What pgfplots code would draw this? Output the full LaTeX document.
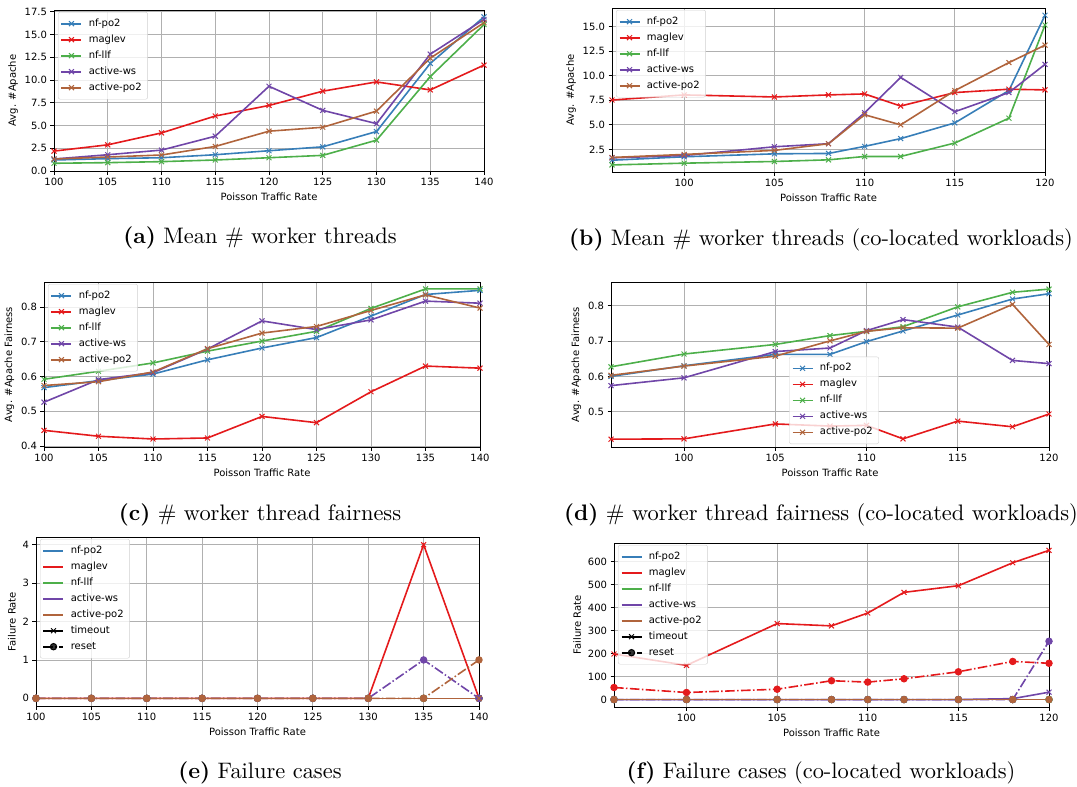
\documentclass[border=0pt]{standalone}
\usepackage{fontspec}
\usepackage{graphicx}
\usepackage{pgfplots}
\pgfplotsset{compat=1.18}
\newfontfamily\dejavu{DejaVu Sans}
\definecolor{cblue}{HTML}{377EB8}
\definecolor{cred}{HTML}{E41A1C}
\definecolor{cgreen}{HTML}{4DAF4A}
\definecolor{cpurple}{HTML}{7046A8}
\definecolor{cbrown}{HTML}{B0643C}
\definecolor{gridc}{HTML}{B0B0B0}
\definecolor{legc}{HTML}{D0D0D0}
\newcommand{\mplfont}{\dejavu\fontsize{10bp}{12bp}\selectfont}
\pgfplotsset{
  mplbase/.style={
    scale only axis,
    anchor=south west,
    grid=major,
    grid style={gridc, line width=0.8bp},
    axis line style={line width=0.8bp},
    tick align=outside,
    tick pos=left,
    major tick length=3.5bp,
    tick style={black, line width=0.8bp},
    every tick label/.append style={font=\mplfont},
    /pgf/number format/assume math mode=true,
    every axis label/.append style={font=\mplfont},
    xlabel={Poisson Traffic Rate},
    legend cell align=left,
    legend style={
      font=\mplfont,
      draw=legc, rounded corners=2bp,
      fill=white, fill opacity=0.8, text opacity=1,
      inner xsep=2.5bp, inner ysep=6.5bp,
      row sep=6bp,
      nodes={inner xsep=3.5bp, inner ysep=0bp, text height=7.6bp, text depth=2.4bp},
      at={(0,1)}, anchor=north west, xshift=4bp, yshift=-2bp,
    },
    legend image code/.code={\draw[mark repeat=2,mark phase=2] plot coordinates {(0bp,0bp) (10bp,0bp) (20bp,0bp)};\path (23bp,0bp);},
  },
  onedec/.style={yticklabel style={/pgf/number format/.cd, fixed, fixed zerofill, precision=1}},
  tb/.style={#1, mark=x, line width=1.6bp, mark size=3.5bp, mark options={line width=1bp, solid}},
  rs/.style={#1, mark=*, mark size=3.2bp, line width=1.6bp, dash pattern=on 9.6bp off 2.4bp on 1.5bp off 2.4bp, mark options={solid, fill=#1, draw=#1, line width=1bp}},
}
\begin{document}
\begin{tikzpicture}
\path[use as bounding box] (0,0) rectangle (1077bp,-787bp);

% (a)
\begin{axis}[mplbase, onedec, at={(54bp,-171bp)}, width=430bp, height=161bp,
  xmin=100, xmax=140, ymin=-0.01, ymax=17.7,
  xtick={100,105,110,115,120,125,130,135,140},
  ytick={0,2.5,5,7.5,10,12.5,15,17.5},
  ylabel={Avg. \#Apache}]
\addplot[tb=cblue] coordinates {(100,1.2)(105,1.35)(110,1.45)(115,1.78)(120,2.22)(125,2.65)(130,4.33)(135,11.82)(140,16.95)};
\addlegendentry{nf-po2}
\addplot[tb=cred] coordinates {(100,2.18)(105,2.87)(110,4.18)(115,6.04)(120,7.2)(125,8.77)(130,9.79)(135,8.91)(140,11.64)};
\addlegendentry{maglev}
\addplot[tb=cgreen] coordinates {(100,0.84)(105,0.91)(110,1.02)(115,1.2)(120,1.45)(125,1.71)(130,3.38)(135,10.37)(140,16.1)};
\addlegendentry{nf-llf}
\addplot[tb=cpurple] coordinates {(100,1.31)(105,1.78)(110,2.29)(115,3.82)(120,9.31)(125,6.66)(130,5.2)(135,12.84)(140,16.66)};
\addlegendentry{active-ws}
\addplot[tb=cbrown] coordinates {(100,1.31)(105,1.53)(110,1.75)(115,2.69)(120,4.37)(125,4.8)(130,6.58)(135,12.4)(140,16.3)};
\addlegendentry{active-po2}
\end{axis}

% (b)
\begin{axis}[mplbase, onedec, at={(612bp,-172bp)}, width=433bp, height=164bp,
  xmin=96, xmax=120, ymin=0.2, ymax=16.9,
  xtick={100,105,110,115,120},
  ytick={2.5,5,7.5,10,12.5,15},
  ylabel={Avg. \#Apache}]
\addplot[tb=cblue] coordinates {(96,1.4)(100,1.75)(105,2.05)(108,2.09)(110,2.81)(112,3.6)(115,5.2)(118,8.5)(120,16.16)};
\addlegendentry{nf-po2}
\addplot[tb=cred] coordinates {(96,7.53)(100,8.05)(105,7.84)(108,8.05)(110,8.15)(112,6.92)(115,8.29)(118,8.63)(120,8.56)};
\addlegendentry{maglev}
\addplot[tb=cgreen] coordinates {(96,0.92)(100,1.1)(105,1.27)(108,1.44)(110,1.78)(112,1.78)(115,3.15)(118,5.68)(120,15.17)};
\addlegendentry{nf-llf}
\addplot[tb=cpurple] coordinates {(96,1.64)(100,1.88)(105,2.77)(108,3.08)(110,6.23)(112,9.83)(115,6.34)(118,8.29)(120,11.16)};
\addlegendentry{active-ws}
\addplot[tb=cbrown] coordinates {(96,1.68)(100,1.99)(105,2.4)(108,3.08)(110,6.03)(112,5.0)(115,8.49)(118,11.34)(120,13.12)};
\addlegendentry{active-po2}
\end{axis}

% (c)
\begin{axis}[mplbase, onedec, at={(44bp,-447bp)}, width=436bp, height=165bp,
  xmin=100, xmax=140, ymin=0.397, ymax=0.872,
  xtick={100,105,110,115,120,125,130,135,140},
  ytick={0.4,0.5,0.6,0.7,0.8},
  ylabel={Avg. \#Apache Fairness}]
\addplot[tb=cblue] coordinates {(100,0.568)(105,0.588)(110,0.607)(115,0.648)(120,0.682)(125,0.712)(130,0.774)(135,0.836)(140,0.848)};
\addlegendentry{nf-po2}
\addplot[tb=cred] coordinates {(100,0.445)(105,0.428)(110,0.42)(115,0.423)(120,0.485)(125,0.467)(130,0.556)(135,0.63)(140,0.624)};
\addlegendentry{maglev}
\addplot[tb=cgreen] coordinates {(100,0.592)(105,0.615)(110,0.639)(115,0.673)(120,0.702)(125,0.73)(130,0.796)(135,0.852)(140,0.852)};
\addlegendentry{nf-llf}
\addplot[tb=cpurple] coordinates {(100,0.526)(105,0.591)(110,0.611)(115,0.679)(120,0.76)(125,0.735)(130,0.763)(135,0.817)(140,0.811)};
\addlegendentry{active-ws}
\addplot[tb=cbrown] coordinates {(100,0.574)(105,0.585)(110,0.613)(115,0.68)(120,0.725)(125,0.744)(130,0.79)(135,0.835)(140,0.797)};
\addlegendentry{active-po2}
\end{axis}

% (d)
\begin{axis}[mplbase, onedec, at={(611bp,-447bp)}, width=438bp, height=165bp,
  xmin=96, xmax=120, ymin=0.401, ymax=0.866,
  xtick={100,105,110,115,120},
  ytick={0.4,0.5,0.6,0.7,0.8},
  ylabel={Avg. \#Apache Fairness},
  legend style={at={(0.5,0)}, anchor=south, xshift=0bp, yshift=5bp}]
\addplot[tb=cblue] coordinates {(96,0.6)(100,0.63)(105,0.662)(108,0.662)(110,0.698)(112,0.728)(115,0.773)(118,0.818)(120,0.833)};
\addlegendentry{nf-po2}
\addplot[tb=cred] coordinates {(96,0.423)(100,0.424)(105,0.466)(108,0.46)(110,0.462)(112,0.424)(115,0.474)(118,0.458)(120,0.494)};
\addlegendentry{maglev}
\addplot[tb=cgreen] coordinates {(96,0.627)(100,0.663)(105,0.69)(108,0.715)(110,0.727)(112,0.74)(115,0.796)(118,0.837)(120,0.846)};
\addlegendentry{nf-llf}
\addplot[tb=cpurple] coordinates {(96,0.574)(100,0.596)(105,0.67)(108,0.68)(110,0.729)(112,0.76)(115,0.739)(118,0.645)(120,0.636)};
\addlegendentry{active-ws}
\addplot[tb=cbrown] coordinates {(96,0.603)(100,0.629)(105,0.657)(108,0.7)(110,0.727)(112,0.737)(115,0.736)(118,0.803)(120,0.69)};
\addlegendentry{active-po2}
\end{axis}

% (e)
\begin{axis}[mplbase, at={(36bp,-706bp)}, width=443bp, height=169bp,
  xmin=100, xmax=140, ymin=-0.2, ymax=4.2,
  xtick={100,105,110,115,120,125,130,135,140},
  ytick={0,1,2,3,4},
  ylabel={Failure Rate}]
\addplot[tb=cblue, forget plot] coordinates {(100,0)(105,0)(110,0)(115,0)(120,0)(125,0)(130,0)(135,0)(140,0)};
\addplot[rs=cblue, forget plot] coordinates {(100,0)(105,0)(110,0)(115,0)(120,0)(125,0)(130,0)(135,0)(140,0)};
\addplot[tb=cred, forget plot] coordinates {(100,0)(105,0)(110,0)(115,0)(120,0)(125,0)(130,0)(135,4)(140,0)};
\addplot[rs=cred, forget plot] coordinates {(100,0)(105,0)(110,0)(115,0)(120,0)(125,0)(130,0)(135,0)(140,0)};
\addplot[tb=cgreen, forget plot] coordinates {(100,0)(105,0)(110,0)(115,0)(120,0)(125,0)(130,0)(135,0)(140,0)};
\addplot[rs=cgreen, forget plot] coordinates {(100,0)(105,0)(110,0)(115,0)(120,0)(125,0)(130,0)(135,0)(140,0)};
\addplot[tb=cpurple, forget plot] coordinates {(100,0)(105,0)(110,0)(115,0)(120,0)(125,0)(130,0)(135,0)(140,0)};
\addplot[rs=cpurple, forget plot] coordinates {(100,0)(105,0)(110,0)(115,0)(120,0)(125,0)(130,0)(135,1)(140,0)};
\addplot[tb=cbrown, forget plot] coordinates {(100,0)(105,0)(110,0)(115,0)(120,0)(125,0)(130,0)(135,0)(140,0)};
\addplot[rs=cbrown, forget plot] coordinates {(100,0)(105,0)(110,0)(115,0)(120,0)(125,0)(130,0)(135,0)(140,1)};
\addlegendimage{cblue, line width=1.6bp}\addlegendentry{nf-po2}
\addlegendimage{cred, line width=1.6bp}\addlegendentry{maglev}
\addlegendimage{cgreen, line width=1.6bp}\addlegendentry{nf-llf}
\addlegendimage{cpurple, line width=1.6bp}\addlegendentry{active-ws}
\addlegendimage{cbrown, line width=1.6bp}\addlegendentry{active-po2}
\addlegendimage{tb=black}\addlegendentry{timeout}
\addlegendimage{rs=black}\addlegendentry{reset}
\end{axis}

% (f)
\begin{axis}[mplbase, at={(614bp,-707bp)}, width=435bp, height=164bp,
  xmin=96, xmax=120, ymin=-32.5, ymax=682,
  xtick={100,105,110,115,120},
  ytick={0,100,200,300,400,500,600},
  ylabel={Failure Rate}]
\addplot[tb=cblue, forget plot] coordinates {(96,0)(100,0)(105,0)(108,0)(110,0)(112,0)(115,0)(118,0)(120,0)};
\addplot[rs=cblue, forget plot] coordinates {(96,0)(100,0)(105,0)(108,0)(110,0)(112,0)(115,0)(118,0)(120,0)};
\addplot[tb=cred, forget plot] coordinates {(96,198.5)(100,149)(105,331)(108,321)(110,377)(112,467)(115,496)(118,596)(120,650)};
\addplot[rs=cred, forget plot] coordinates {(96,52.5)(100,30.7)(105,45)(108,82)(110,76)(112,90.5)(115,121)(118,166)(120,158)};
\addplot[tb=cgreen, forget plot] coordinates {(96,0)(100,0)(105,0)(108,0)(110,0)(112,0)(115,0)(118,0)(120,0)};
\addplot[rs=cgreen, forget plot] coordinates {(96,0)(100,0)(105,0)(108,0)(110,0)(112,0)(115,0)(118,0)(120,0)};
\addplot[tb=cpurple, forget plot] coordinates {(96,0)(100,0)(105,0)(108,0)(110,0)(112,0)(115,0)(118,4)(120,32)};
\addplot[rs=cpurple, forget plot] coordinates {(96,0)(100,0)(105,0)(108,0)(110,0)(112,0)(115,0)(118,0)(120,254)};
\addplot[tb=cbrown, forget plot] coordinates {(96,0)(100,0)(105,0)(108,0)(110,0)(112,0)(115,0)(118,0)(120,0)};
\addplot[rs=cbrown, forget plot] coordinates {(96,0)(100,0)(105,0)(108,0)(110,0)(112,0)(115,0)(118,0)(120,0)};
\addlegendimage{cblue, line width=1.6bp}\addlegendentry{nf-po2}
\addlegendimage{cred, line width=1.6bp}\addlegendentry{maglev}
\addlegendimage{cgreen, line width=1.6bp}\addlegendentry{nf-llf}
\addlegendimage{cpurple, line width=1.6bp}\addlegendentry{active-ws}
\addlegendimage{cbrown, line width=1.6bp}\addlegendentry{active-po2}
\addlegendimage{tb=black}\addlegendentry{timeout}
\addlegendimage{rs=black}\addlegendentry{reset}
\end{axis}

% captions
\node[anchor=base] at (260bp,-243bp) {\scalebox{2.25}{\fontsize{10pt}{12pt}\selectfont\textbf{(a)} Mean \# worker threads}};
\node[anchor=base] at (821bp,-245bp) {\scalebox{2.25}{\fontsize{10pt}{12pt}\selectfont\textbf{(b)} Mean \# worker threads (co-located workloads)}};
\node[anchor=base] at (260bp,-520bp) {\scalebox{2.25}{\fontsize{10pt}{12pt}\selectfont\textbf{(c)} \# worker thread fairness}};
\node[anchor=base] at (821bp,-520bp) {\scalebox{2.25}{\fontsize{10pt}{12pt}\selectfont\textbf{(d)} \# worker thread fairness (co-located workloads)}};
\node[anchor=base] at (260bp,-778bp) {\scalebox{2.25}{\fontsize{10pt}{12pt}\selectfont\textbf{(e)} Failure cases}};
\node[anchor=base] at (821bp,-778bp) {\scalebox{2.25}{\fontsize{10pt}{12pt}\selectfont\textbf{(f)} Failure cases (co-located workloads)}};
\end{tikzpicture}
\end{document}
